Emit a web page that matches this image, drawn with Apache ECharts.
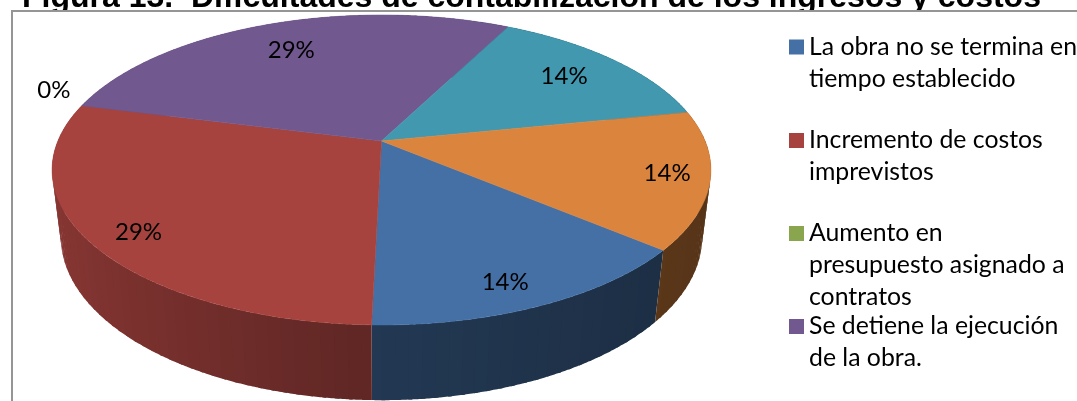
<!DOCTYPE html>
<html><head><meta charset="utf-8">
<style>html,body{margin:0;padding:0;background:#fff}#c{width:1077px;height:401px}</style>
<script src="https://cdn.jsdelivr.net/npm/echarts@6/dist/echarts.min.js"></script>
</head><body><div id="c"></div>
<script>
const titleText = 'Figura 13.  Dificultades de contabilización de los ingresos y costos';
const categories = [
  'La obra no se termina en\ntiempo establecido',
  'Incremento de costos\nimprevistos',
  'Aumento en\npresupuesto asignado a\ncontratos',
  'Se detiene la ejecución\nde la obra.',
  'Otra dificultad 1',
  'Otra dificultad 2'
];
const values = [1, 2, 0, 2, 1, 1];
const colors = ['#4570A5', '#A6433F', '#89A54E', '#71588F', '#4198AF', '#DB843D'];
const legendIconCenters = [47, 140.5, 233.5, 326.5];
const legendLeft = 789, lineH = 32;
// label placement along each slice's mid angle (horizontal, vertical radius fractions)
const labelRadii = [[0.79, 0.88], [0.845, 0.91], [1.115, 1.46], [0.765, 0.752], [0.77, 0.775], [0.875, 0.85]];

// perspective projection of the disc
const firstAngle = 130, K = 323.6, cx = 381.5, A = 123.2, B = 141, C = -0.187, E = 0.0264, G = 71.7;
function proj(X, Y, low) {
  const w = 1 + C * Y + (low ? E : 0);
  return [cx + K * X / w, (A * Y + B + (low ? G : 0)) / w];
}
const rim = (deg, low) => { const t = deg * Math.PI / 180; return proj(Math.sin(t), -Math.cos(t), low); };
const total = values.reduce((a, b) => a + b, 0);
const starts = []; values.reduce((acc, v, i) => (starts[i] = acc, acc + v), 0);

function shade(hex, f) {
  const n = parseInt(hex.slice(1), 16);
  const c = [n >> 16, (n >> 8) & 255, n & 255].map(v => Math.round(v * f));
  return 'rgb(' + c.join(',') + ')';
}
function wallFactor(X) { return X < -0.026 ? 0.57 + 0.25 * (-X) : 0.5 - 0.11 * X; }

function renderSlice(params, api) {
  const i = params.seriesIndex;
  const color = api.visual('color');
  const a0 = firstAngle + starts[i] / total * 360;
  const a1 = firstAngle + (starts[i] + values[i]) / total * 360;
  const children = [];
  if (values[i] > 0) {
    const step = 2;
    for (let a = a1 - step; a > a0 - step + 1e-6; a -= step) {
      const from = Math.max(a, a0);
      const to = Math.min(a + step + 0.6, a1);
      const mid = Math.sin((from + Math.min(a + step, a1)) / 2 * Math.PI / 180);
      const fill = shade(colors[i], wallFactor(mid));
      const pts = [];
      for (let t = from; t < to; t += 0.3) pts.push(rim(t));
      pts.push(rim(to));
      const low = [];
      for (let t = from; t < to; t += 0.3) low.push(rim(t, true));
      low.push(rim(to, true));
      children.push({
        type: 'polygon', z2: 1,
        shape: { points: pts.concat(low.reverse()) },
        style: { fill: fill }
      });
    }
    const pts = [proj(0, 0)];
    for (let a = a0; a < a1; a += 0.5) pts.push(rim(a));
    pts.push(rim(a1));
    children.push({ type: 'polygon', z2: 2, shape: { points: pts }, style: { fill: color, stroke: color, lineWidth: 0.5 } });
  }
  const m = (a0 + a1) / 2 * Math.PI / 180, r = labelRadii[i];
  const p = proj(Math.sin(m) * r[0], -Math.cos(m) * r[1]);
  children.push({
    type: 'text', z2: 3, x: p[0], y: p[1],
    style: {
      text: Math.round(values[i] / total * 100) + '%',
      align: 'center', verticalAlign: 'middle',
      font: '24px Lato', fill: '#000'
    }
  });
  return { type: 'group', children: children };
}

const chart = echarts.init(document.getElementById('c'), null, { renderer: 'canvas' });
chart.setOption({
  animation: false,
  backgroundColor: '#fff',
  title: {
    text: titleText, left: 22, top: -18, padding: 0, z: 0,
    textStyle: { fontFamily: 'Liberation Sans', fontWeight: 'bold', fontSize: 32, color: '#000' }
  },
  graphic: [{
    type: 'rect', z: 1, silent: true,
    shape: { x: 12, y: 11, width: 1300, height: 600 },
    style: { fill: '#fff', stroke: '#959595', lineWidth: 2 }
  }],
  legend: legendIconCenters.map((c, i) => {
    const n = categories[i].split('\n').length;
    return {
      data: [categories[i]], left: legendLeft, top: c - (2 * n - 1) * lineH / 2,
      padding: 0, selectedMode: false, icon: 'rect', itemWidth: 15, itemHeight: 15, z: 5,
      // leading blank lines keep the swatch level with the first text line
      formatter: name => '\n'.repeat(n - 1) + name,
      textStyle: { fontFamily: 'Lato', fontSize: 24.8, lineHeight: lineH, color: '#000' }
    };
  }),
  series: categories.map((name, i) => ({
    type: 'custom', name: name, coordinateSystem: 'none', z: 2,
    itemStyle: { color: colors[i] },
    data: [values[i]],
    renderItem: renderSlice,
    silent: true
  }))
});
</script></body></html>
